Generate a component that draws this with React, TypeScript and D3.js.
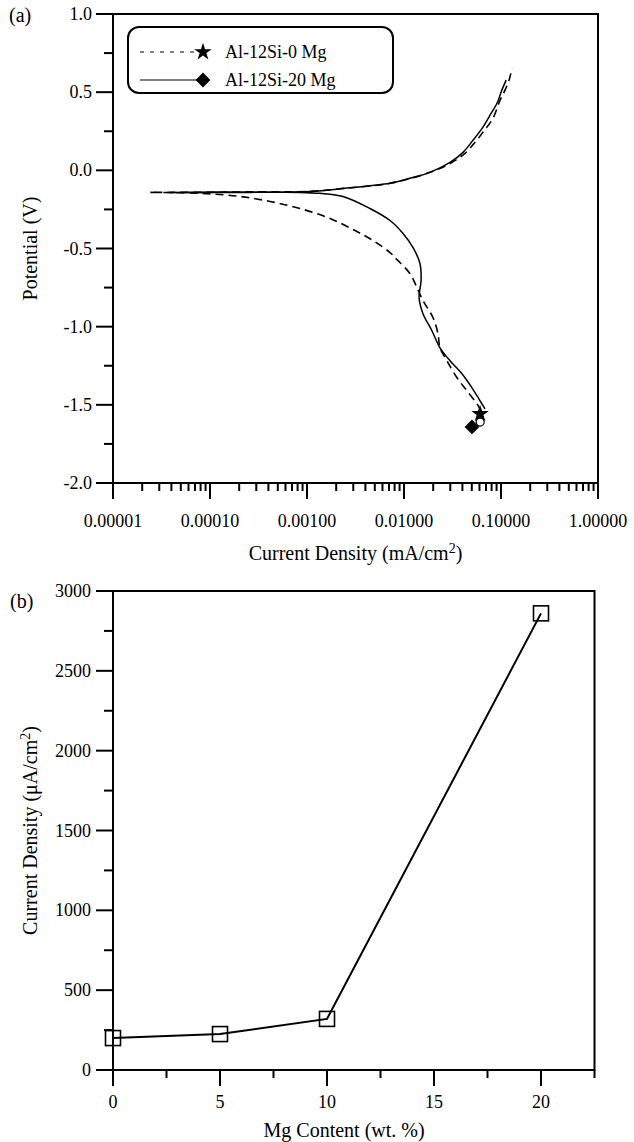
import React from 'react';
import * as d3 from 'd3';

// (a) polarisation curves: current (mA/cm2) and potential (V), from the cathodic end up to the anodic end
const mg0Current = [0.0622, 0.0566, 0.0446, 0.0352, 0.0277, 0.0235, 0.0224, 0.0199, 0.0157, 0.0136, 0.0115, 0.00847, 0.00718, 0.00479, 0.00313, 0.00173, 0.000847, 0.000416, 0.000204, 0.0000789, 0.000024, 0.0000789, 0.000258, 0.00107, 0.00247, 0.00718, 0.0185, 0.0313, 0.0426, 0.054, 0.0652, 0.0827, 0.0977, 0.11, 0.121, 0.13];
const mg0Potential = [-1.538, -1.494, -1.41, -1.327, -1.218, -1.135, -1.045, -0.942, -0.833, -0.75, -0.66, -0.571, -0.526, -0.449, -0.385, -0.308, -0.244, -0.199, -0.167, -0.147, -0.141, -0.141, -0.138, -0.135, -0.115, -0.083, -0.013, 0.051, 0.109, 0.179, 0.244, 0.333, 0.449, 0.513, 0.577, 0.654];

const mg20Current = [0.0684, 0.0608, 0.0502, 0.0396, 0.0298, 0.0235, 0.0194, 0.0157, 0.0143, 0.015, 0.0146, 0.0124, 0.00977, 0.00718, 0.00446, 0.00235, 0.00136, 0.000847, 0.000258, 0.0000387, 0.000258, 0.00107, 0.00247, 0.00718, 0.0115, 0.0185, 0.0298, 0.0406, 0.0514, 0.0652, 0.0771, 0.091, 0.102, 0.113];
const mg20Potential = [-1.526, -1.474, -1.391, -1.301, -1.218, -1.135, -1.026, -0.917, -0.814, -0.705, -0.596, -0.494, -0.404, -0.321, -0.244, -0.167, -0.147, -0.141, -0.141, -0.141, -0.138, -0.135, -0.115, -0.083, -0.051, -0.013, 0.051, 0.115, 0.192, 0.276, 0.353, 0.429, 0.513, 0.577];

// end markers
const starPoint = [0.0608, -1.558];
const diamondPoint = [0.0502, -1.641];
const circlePoint = [0.061, -1.61];

const legendLabels = ['Al-12Si-0 Mg', 'Al-12Si-20 Mg'];

// (b) corrosion current vs Mg content
const mgContent = [0, 5, 10, 20];
const corrCurrent = [200, 225, 320, 2860];

const FONT = '"Liberation Serif", "Times New Roman", serif';

const App = () => {
  // panel (a)
  const ax = d3.scaleLog().domain([1e-5, 1]).range([113, 598]);
  const ay = d3.scaleLinear().domain([-2, 1]).range([483, 14]);
  // panel (b)
  const bx = d3.scaleLinear().domain([0, 22.5]).range([113, 594.5]);
  const by = d3.scaleLinear().domain([0, 3000]).range([1070, 591]);

  const lineA = d3.line<number>()
    .x(d => ax(d[0]))
    .y(d => ay(d[1]))
    .curve(d3.curveCatmullRom);

  const mg0 = mg0Current.map((c, i) => [c, mg0Potential[i]]);
  const mg20 = mg20Current.map((c, i) => [c, mg20Potential[i]]);

  const aMajorX = d3.range(-5, 1).map(e => Math.pow(10, e));
  const aMinorX = d3.range(-5, 0).flatMap(e => d3.range(2, 10).map(k => k * Math.pow(10, e)));
  const aMajorY = d3.range(-2, 1.01, 0.5);
  const aMinorY = d3.range(-1.75, 1, 0.5);

  const bMajorY = d3.range(0, 3001, 500);
  const bMinorY = d3.range(250, 3000, 500);
  const bMajorX = d3.range(0, 21, 5);
  const bMinorX = d3.range(2.5, 23, 5);

  const lineB = d3.line<number>()
    .x((d, i) => bx(mgContent[i]))
    .y(d => by(d));

  const star = d3.symbol().type(d3.symbolStar).size(95)();
  const diamond = d3.symbol().type(d3.symbolSquare).size(110)();

  const tickStyle = { stroke: '#000', strokeWidth: 2 };

  return (
    <svg width={634} height={1142} style={{ position: 'absolute', left: 0, top: 0, background: '#fff' }}
      fontFamily={FONT}>
      {/* ---------- panel (a) ---------- */}
      <text x={9} y={22} fontSize={20}>(a)</text>
      {aMajorY.map(v => (
        <g key={'ay' + v}>
          <line x1={96} x2={113} y1={ay(v)} y2={ay(v)} {...tickStyle} />
          <text x={92} y={ay(v) + 6} fontSize={18} textAnchor="end">{v.toFixed(1)}</text>
        </g>
      ))}
      {aMinorY.map(v => (
        <line key={'amy' + v} x1={104} x2={113} y1={ay(v)} y2={ay(v)} {...tickStyle} />
      ))}
      {aMajorX.map(v => (
        <g key={'ax' + v}>
          <line x1={ax(v)} x2={ax(v)} y1={483} y2={499} {...tickStyle} />
          <text x={ax(v)} y={527} fontSize={18} textAnchor="middle">{d3.format('.5f')(v)}</text>
        </g>
      ))}
      {aMinorX.map(v => (
        <line key={'amx' + v} x1={ax(v)} x2={ax(v)} y1={483} y2={491} {...tickStyle} />
      ))}
      <text x={ax(Math.pow(10, -2.5))} y={560} fontSize={20} textAnchor="middle">
        Current Density (mA/cm<tspan dy={-7} fontSize={14}>2</tspan><tspan dy={7}>)</tspan>
      </text>
      <text transform={`translate(37,${ay(-0.5)}) rotate(-90)`} fontSize={20} textAnchor="middle">Potential (V)</text>

      <path d={lineA(mg0 as any) || ''} fill="none" stroke="#000" strokeWidth={1.6} strokeDasharray="8,5" />
      <path d={lineA(mg20 as any) || ''} fill="none" stroke="#000" strokeWidth={1.5} />
      <circle cx={ax(circlePoint[0])} cy={ay(circlePoint[1])} r={4} fill="#fff" stroke="#000" strokeWidth={1.2} />
      <path d={star || ''} transform={`translate(${ax(starPoint[0])},${ay(starPoint[1])})`} fill="#000" />
      <path d={diamond || ''} transform={`translate(${ax(diamondPoint[0])},${ay(diamondPoint[1])}) rotate(45)`} fill="#000" />

      <rect x={113} y={14} width={485} height={469} fill="none" stroke="#000" strokeWidth={2} />

      {/* legend */}
      <rect x={128} y={27} width={265} height={66} rx={11} fill="#fff" stroke="#000" strokeWidth={2} />
      <line x1={140} x2={203} y1={52} y2={52} stroke="#000" strokeWidth={1} strokeDasharray="4,6" />
      <path d={star || ''} transform="translate(203,52)" fill="#000" />
      <text x={225} y={58} fontSize={18}>{legendLabels[0]}</text>
      <line x1={140} x2={203} y1={80} y2={80} stroke="#000" strokeWidth={1} />
      <path d={diamond || ''} transform="translate(203,80) rotate(45)" fill="#000" />
      <text x={225} y={86} fontSize={18}>{legendLabels[1]}</text>

      {/* ---------- panel (b) ---------- */}
      <text x={10} y={608} fontSize={20}>(b)</text>
      {bMajorY.map(v => (
        <g key={'by' + v}>
          <line x1={96} x2={113} y1={by(v)} y2={by(v)} {...tickStyle} />
          <text x={91} y={by(v) + 6} fontSize={18} textAnchor="end">{v}</text>
        </g>
      ))}
      {bMinorY.map(v => (
        <line key={'bmy' + v} x1={104} x2={113} y1={by(v)} y2={by(v)} {...tickStyle} />
      ))}
      {bMajorX.map(v => (
        <g key={'bx' + v}>
          <line x1={bx(v)} x2={bx(v)} y1={1070} y2={1086} {...tickStyle} />
          <text x={bx(v)} y={1108} fontSize={18} textAnchor="middle">{v}</text>
        </g>
      ))}
      {bMinorX.map(v => (
        <line key={'bmx' + v} x1={bx(v)} x2={bx(v)} y1={1070} y2={1078} {...tickStyle} />
      ))}
      <text x={bx(10.8)} y={1137} fontSize={20} textAnchor="middle">Mg Content (wt. %)</text>
      <text transform={`translate(37,${by(1500)}) rotate(-90)`} fontSize={20} textAnchor="middle">
        Current Density (μA/cm<tspan dy={-7} fontSize={14}>2</tspan><tspan dy={7}>)</tspan>
      </text>

      <path d={lineB(corrCurrent) || ''} fill="none" stroke="#000" strokeWidth={2} />
      {corrCurrent.map((v, i) => (
        <rect key={'sq' + i} x={bx(mgContent[i]) - 7.5} y={by(v) - 7.5} width={15} height={15}
          fill="none" stroke="#000" strokeWidth={1.6} />
      ))}

      <rect x={113} y={591} width={481.5} height={479} fill="none" stroke="#000" strokeWidth={2} />
    </svg>
  );
};

export default App;
